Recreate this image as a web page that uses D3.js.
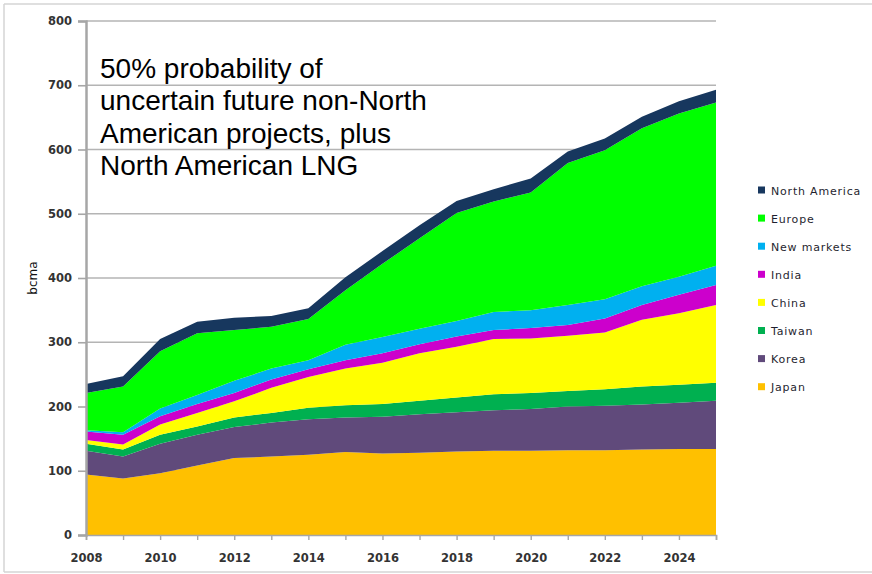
<!DOCTYPE html>
<html>
<head>
<meta charset="utf-8">
<script src="https://cdn.jsdelivr.net/npm/d3@7"></script>
<style>
  html, body { margin: 0; padding: 0; background: #fff; }
  svg { display: block; }
</style>
</head>
<body>
<svg id="chart" width="872" height="574"></svg>
<script>
// ---- Data (bcma) ----
const years = [2008,2009,2010,2011,2012,2013,2014,2015,2016,2017,2018,2019,2020,2021,2022,2023,2024,2025];
const seriesNames = ["Japan","Korea","Taiwan","China","India","New markets","Europe","North America"];
const japan        = [94, 88, 96,108,120,122,125,129,127,128,130,131,131,132,132,133,134,134];
const korea        = [37, 34, 46, 48, 48, 53, 55, 54, 57, 60, 61, 63, 65, 68, 69, 70, 72, 75];
const taiwan       = [11, 11, 14, 13, 15, 15, 18, 19, 20, 21, 23, 25, 25, 24, 26, 28, 28, 28];
const china        = [ 6,  8, 16, 21, 25, 39, 48, 57, 64, 74, 79, 86, 85, 86, 88,104,111,121];
const india        = [13, 15, 13, 14, 13, 13, 12, 13, 15, 14, 16, 14, 16, 17, 22, 23, 29, 31];
const newMarkets   = [ 2,  4, 12, 14, 19, 17, 14, 24, 25, 24, 24, 28, 28, 31, 30, 29, 28, 30];
const europe       = [58, 71, 89, 96, 79, 65, 64, 85,114,141,168,172,183,221,232,246,254,254];
const northAmerica = [14, 16, 19, 18, 19, 17, 17, 20, 20, 20, 19, 19, 22, 18, 18, 18, 19, 20];
const yTicks = [0,100,200,300,400,500,600,700,800];
const xTickLabels = [2008,2010,2012,2014,2016,2018,2020,2022,2024];
const colors = ["#FFC000","#604A7B","#00B050","#FFFF00","#CC00CC","#00B0F0","#00FF00","#17375E"];
const annotation = ["50% probability of","uncertain future non-North","American projects, plus","North American LNG"];
const yLabel = "bcma";

const seriesValues = [japan, korea, taiwan, china, india, newMarkets, europe, northAmerica];
const table = years.map((yr, i) => {
  const row = { year: yr };
  seriesNames.forEach((n, k) => row[n] = seriesValues[k][i]);
  return row;
});

const svg = d3.select("#chart");
const x = d3.scaleLinear().domain([2008, 2025]).range([86, 716]);
const y = d3.scaleLinear().domain([0, 800]).range([535, 21]);

// Frame
const frame = svg.append("g").attr("stroke", "#d4d4d4").attr("stroke-width", 1.5).attr("fill", "none");
frame.append("line").attr("x1", 4).attr("x2", 872).attr("y1", 4).attr("y2", 4);
frame.append("line").attr("x1", 4).attr("x2", 4).attr("y1", 4).attr("y2", 572);
frame.append("line").attr("x1", 4).attr("x2", 872).attr("y1", 572).attr("y2", 572);

// Gridlines
svg.append("g").selectAll("line").data(yTicks.filter(d => d > 0)).join("line")
  .attr("x1", x(2008)).attr("x2", x(2025))
  .attr("y1", d => y(d)).attr("y2", d => y(d))
  .attr("stroke", "#b4b4b4").attr("stroke-width", 1.6);

// Stacked areas
const stack = d3.stack().keys(seriesNames);
const layers = stack(table);
const area = d3.area()
  .x(d => x(d.data.year))
  .y0(d => y(d[0]))
  .y1(d => y(d[1]));
svg.append("g").selectAll("path").data(layers).join("path")
  .attr("d", area)
  .attr("fill", (d, i) => colors[i]);

// Y axis
const yAxis = d3.axisLeft(y).tickValues(yTicks).tickSize(8).tickPadding(6).tickFormat(d3.format("d"));
const gy = svg.append("g").attr("transform", `translate(${x(2008)},0)`).call(yAxis);
gy.select(".domain").attr("stroke", "#a6a6a6").attr("stroke-width", 2.5);
gy.selectAll(".tick line").attr("stroke", "#a6a6a6").attr("stroke-width", 1.6);
gy.selectAll("text").attr("font-family", "DejaVu Sans, Verdana, sans-serif")
  .attr("font-size", 11.5).attr("font-weight", "bold").attr("fill", "#333");

// X axis
const xAxis = d3.axisBottom(x).tickValues(years).tickSize(5).tickPadding(14)
  .tickFormat(d => xTickLabels.includes(d) ? String(d) : "");
const gx = svg.append("g").attr("transform", `translate(0,${y(0)})`).call(xAxis);
gx.select(".domain").attr("stroke", "#a6a6a6").attr("stroke-width", 1.6);
gx.selectAll(".tick line").attr("stroke", "#a6a6a6").attr("stroke-width", 1.4);
gx.selectAll("text").attr("font-family", "DejaVu Sans, Verdana, sans-serif")
  .attr("font-size", 11.5).attr("font-weight", "bold").attr("fill", "#333");

// Y label
svg.append("text")
  .attr("transform", `translate(37,${y(400)}) rotate(-90)`)
  .attr("text-anchor", "middle")
  .attr("font-family", "DejaVu Sans, sans-serif")
  .attr("font-size", 12).attr("fill", "#111")
  .text(yLabel);

// Annotation
svg.append("g").selectAll("text").data(annotation).join("text")
  .attr("x", 100).attr("y", (d, i) => 78 + i * 32.3)
  .attr("font-family", "Liberation Sans, Arial, sans-serif")
  .attr("font-size", 28).attr("fill", "#000")
  .text(d => d);

// Legend (top to bottom: reverse stack order)
const legendItems = seriesNames.map((n, i) => ({ name: n, color: colors[i] })).reverse();
const lg = svg.append("g").selectAll("g").data(legendItems).join("g")
  .attr("transform", (d, i) => `translate(758,${190.5 + i * 28.1})`);
lg.append("rect").attr("x", 0).attr("y", -4).attr("width", 7).attr("height", 7)
  .attr("fill", d => d.color);
lg.append("text").attr("x", 13).attr("y", 4)
  .attr("font-family", "DejaVu Sans, Verdana, sans-serif")
  .attr("font-size", 11).attr("letter-spacing", 0.8).attr("fill", "#1f1f2f")
  .text(d => d.name);
</script>
</body>
</html>
